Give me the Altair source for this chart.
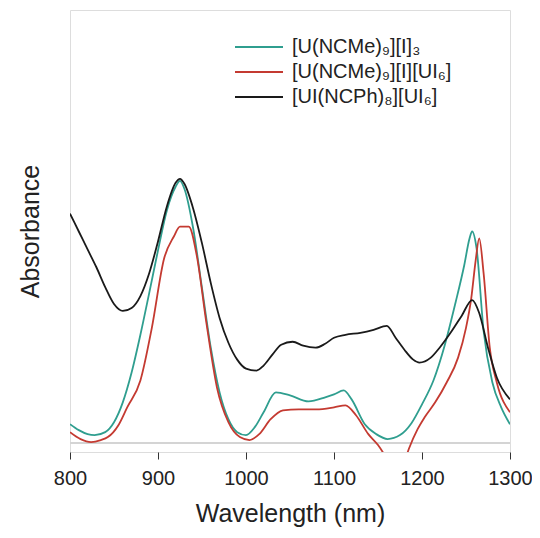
import altair as alt
import pandas as pd

# ---- data (absorbance in arbitrary units) ----
black_wl = [800, 810, 820, 830, 840, 850, 860, 870, 880, 890, 900, 910, 920, 925, 930, 940, 950, 960,
            970, 980, 990, 1000, 1012, 1020, 1030, 1040, 1053, 1065, 1079, 1090, 1100, 1113, 1130, 1145,
            1160, 1170, 1180, 1190, 1197, 1210, 1220, 1234, 1245, 1257, 1265, 1275, 1285, 1300]
black_abs = [2.40, 2.22, 2.04, 1.86, 1.66, 1.49, 1.42, 1.45, 1.57, 1.80, 2.12, 2.47, 2.71, 2.75, 2.70,
             2.45, 2.10, 1.70, 1.35, 1.10, 0.93, 0.84, 0.82, 0.87, 0.98, 1.08, 1.11, 1.07, 1.05, 1.09,
             1.15, 1.18, 1.20, 1.23, 1.27, 1.15, 1.03, 0.93, 0.90, 0.95, 1.05, 1.22, 1.37, 1.53, 1.40,
             1.05, 0.75, 0.53]

teal_wl = [800, 810, 820, 828, 840, 850, 860, 870, 880, 890, 900, 910, 920, 925, 930, 940, 950, 960,
           970, 980, 990, 1000, 1010, 1020, 1034, 1050, 1071, 1090, 1100, 1111, 1120, 1135, 1148, 1161,
           1175, 1188, 1200, 1213, 1226, 1238, 1248, 1254, 1257, 1262, 1270, 1280, 1290, 1300]
teal_abs = [0.28, 0.22, 0.18, 0.17, 0.20, 0.30, 0.50, 0.80, 1.18, 1.60, 2.03, 2.43, 2.67, 2.73, 2.65,
            2.25, 1.65, 1.05, 0.60, 0.33, 0.20, 0.17, 0.25, 0.40, 0.60, 0.57, 0.51, 0.55, 0.58, 0.62,
            0.53, 0.28, 0.18, 0.13, 0.17, 0.29, 0.48, 0.72, 1.08, 1.50, 1.88, 2.15, 2.22, 2.05, 1.22,
            0.70, 0.45, 0.28]

red_wl = [800, 812, 824, 835, 843, 855, 865, 880, 893, 907, 918, 925, 935, 944, 955, 967, 980, 993,
          1004, 1015, 1028, 1042, 1060, 1080, 1100, 1113, 1125, 1139, 1150, 1160, 1170, 1178, 1185,
          1195, 1203, 1215, 1228, 1241, 1250, 1256, 1261, 1265, 1270, 1277, 1285, 1300]
red_abs = [0.20, 0.13, 0.10, 0.12, 0.15, 0.27, 0.45, 0.72, 1.25, 1.95, 2.17, 2.27, 2.27, 1.98, 1.30,
           0.65, 0.30, 0.15, 0.12, 0.18, 0.33, 0.42, 0.43, 0.43, 0.45, 0.47, 0.37, 0.18, 0.07, -0.07,
           -0.25, -0.15, 0.03, 0.23, 0.35, 0.50, 0.70, 0.95, 1.25, 1.55, 1.93, 2.15, 1.80, 1.05, 0.70,
           0.40]

series_names = ["[U(NCMe)\u2089][I]\u2083",
                "[U(NCMe)\u2089][I][UI\u2086]",
                "[UI(NCPh)\u2088][UI\u2086]"]
series_colors = ["#2f9e8f", "#c43a31", "#1a1a1a"]
baseline_abs = [0.09]
x_ticks = [800, 900, 1000, 1100, 1200, 1300]

rows = []
for name, wl, ab in [(series_names[0], teal_wl, teal_abs),
                     (series_names[1], red_wl, red_abs),
                     (series_names[2], black_wl, black_abs)]:
    for i, (w, a) in enumerate(zip(wl, ab)):
        rows.append({"series": name, "wl": w, "abs": a, "order": i})
df = pd.DataFrame(rows)
legend_df = pd.DataFrame({"series": series_names})

FONT = "Liberation Sans, Arial, Helvetica, sans-serif"
Y_DOMAIN = [0, 4.45]
color_scale = alt.Scale(domain=series_names, range=series_colors)
legend_y_scale = alt.Scale(type="point", domain=series_names, range=[37, 87], padding=0)

x_enc = alt.X("wl:Q",
              scale=alt.Scale(domain=[800, 1300], nice=False),
              axis=alt.Axis(title="Wavelength (nm)", values=x_ticks, format="d",
                            tickSize=7, tickColor="#333", domain=False, grid=False,
                            labelFlush=False, labelOverlap=False,
                            labelFontSize=20, labelPadding=9, labelColor="#222",
                            titleFontSize=25, titleFontWeight="normal", titlePadding=13,
                            titleColor="#222", labelFont=FONT, titleFont=FONT))
y_enc = alt.Y("abs:Q",
              scale=alt.Scale(domain=Y_DOMAIN, nice=False),
              axis=alt.Axis(title="Absorbance", ticks=False, labels=False, domain=False,
                            grid=False, titleFontSize=25, titleFontWeight="normal",
                            titlePadding=27, titleColor="#222", titleFont=FONT))

base_rule = alt.Chart(pd.DataFrame({"abs": baseline_abs})).mark_rule(
    color="#d4d4d4", strokeWidth=2).encode(
    y=alt.Y("abs:Q", scale=alt.Scale(domain=Y_DOMAIN, nice=False), axis=None))

lines = alt.Chart(df).mark_line(interpolate="monotone", strokeWidth=1.8, clip=True).encode(
    x=x_enc,
    y=y_enc,
    order="order:Q",
    color=alt.Color("series:N", scale=color_scale, legend=None),
)

legend_lines = alt.Chart(legend_df).mark_rule(strokeWidth=2).encode(
    x=alt.value(165), x2=alt.value(213),
    y=alt.Y("series:N", scale=legend_y_scale, axis=None),
    color=alt.Color("series:N", scale=color_scale, legend=None),
)
legend_text = alt.Chart(legend_df).mark_text(
    align="left", baseline="middle", fontSize=20, font=FONT, color="#222").encode(
    x=alt.value(222),
    y=alt.Y("series:N", scale=legend_y_scale, axis=None),
    text="series:N",
)

chart = alt.layer(base_rule, lines, legend_lines, legend_text).resolve_scale(
    y="independent"
).properties(
    width=440, height=442,
    autosize=alt.AutoSizeParams(type="none"),
    padding={"left": 62, "top": 2, "right": 22, "bottom": 78},
).configure_view(stroke="#333", strokeWidth=1.5).configure(font=FONT)

chart.save("out.html", embed_options={"renderer": "svg", "actions": False})
